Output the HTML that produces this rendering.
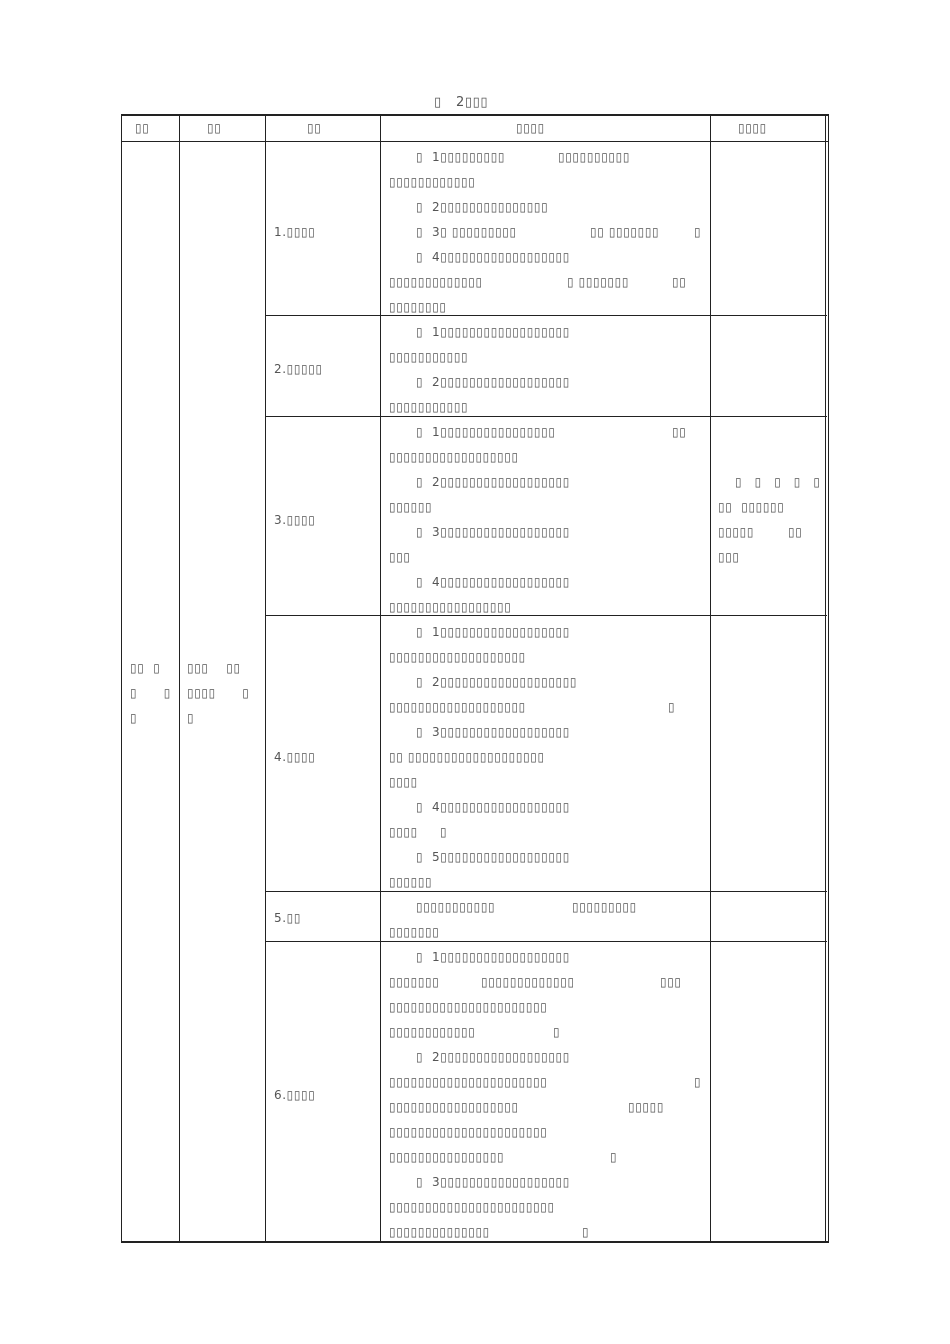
<!DOCTYPE html>
<html><head><meta charset="utf-8"><style>
body{margin:0;background:#fff;width:950px;height:1344px;position:relative;overflow:hidden}
.t{position:absolute;font-family:"DejaVu Sans",sans-serif;font-size:12px;letter-spacing:0.6px;line-height:14px;color:#555;white-space:pre}
.h{position:absolute;background:#222;height:1px}
.v{position:absolute;background:#222;width:1px}
</style></head><body>
<div class="h" style="left:121px;top:114px;width:707px;height:2px"></div>
<div class="h" style="left:121px;top:141px;width:707px"></div>
<div class="h" style="left:121px;top:1241px;width:707px;height:2px"></div>
<div class="h" style="left:265px;top:315px;width:562px"></div>
<div class="h" style="left:265px;top:416px;width:562px"></div>
<div class="h" style="left:265px;top:615px;width:562px"></div>
<div class="h" style="left:265px;top:891px;width:562px"></div>
<div class="h" style="left:265px;top:941px;width:562px"></div>
<div class="v" style="left:121px;top:114px;height:1129px"></div>
<div class="v" style="left:179px;top:114px;height:1129px"></div>
<div class="v" style="left:265px;top:114px;height:1129px"></div>
<div class="v" style="left:380px;top:114px;height:1129px"></div>
<div class="v" style="left:710px;top:114px;height:1129px"></div>
<div class="v" style="left:825px;top:114px;height:1129px"></div>
<div class="v" style="left:828px;top:114px;height:1129px"></div>

<div class="t" style="left:434px;top:96px;font-size:13px">▯   2▯▯▯</div>
<div class="t" style="left:135px;top:121px">▯▯</div>
<div class="t" style="left:207px;top:121px">▯▯</div>
<div class="t" style="left:307px;top:121px">▯▯</div>
<div class="t" style="left:516px;top:121px">▯▯▯▯</div>
<div class="t" style="left:738px;top:121px">▯▯▯▯</div>

<div class="t" style="left:274px;top:225px">1.▯▯▯▯</div>
<div class="t" style="left:416px;top:150px">▯  1▯▯▯▯▯▯▯▯▯</div>
<div class="t" style="left:558px;top:150px">▯▯▯▯▯▯▯▯▯▯</div>
<div class="t" style="left:389px;top:175px">▯▯▯▯▯▯▯▯▯▯▯▯</div>
<div class="t" style="left:416px;top:200px">▯  2▯▯▯▯▯▯▯▯▯▯▯▯▯▯▯</div>
<div class="t" style="left:416px;top:225px">▯  3▯ ▯▯▯▯▯▯▯▯▯</div>
<div class="t" style="left:590px;top:225px">▯▯ ▯▯▯▯▯▯▯</div>
<div class="t" style="left:694px;top:225px">▯</div>
<div class="t" style="left:416px;top:250px">▯  4▯▯▯▯▯▯▯▯▯▯▯▯▯▯▯▯▯▯</div>
<div class="t" style="left:389px;top:275px">▯▯▯▯▯▯▯▯▯▯▯▯▯</div>
<div class="t" style="left:567px;top:275px">▯ ▯▯▯▯▯▯▯</div>
<div class="t" style="left:672px;top:275px">▯▯</div>
<div class="t" style="left:389px;top:300px">▯▯▯▯▯▯▯▯</div>

<div class="t" style="left:274px;top:362px">2.▯▯▯▯▯</div>
<div class="t" style="left:416px;top:325px">▯  1▯▯▯▯▯▯▯▯▯▯▯▯▯▯▯▯▯▯</div>
<div class="t" style="left:389px;top:350px">▯▯▯▯▯▯▯▯▯▯▯</div>
<div class="t" style="left:416px;top:375px">▯  2▯▯▯▯▯▯▯▯▯▯▯▯▯▯▯▯▯▯</div>
<div class="t" style="left:389px;top:400px">▯▯▯▯▯▯▯▯▯▯▯</div>

<div class="t" style="left:274px;top:513px">3.▯▯▯▯</div>
<div class="t" style="left:416px;top:425px">▯  1▯▯▯▯▯▯▯▯▯▯▯▯▯▯▯▯</div>
<div class="t" style="left:672px;top:425px">▯▯</div>
<div class="t" style="left:389px;top:450px">▯▯▯▯▯▯▯▯▯▯▯▯▯▯▯▯▯▯</div>
<div class="t" style="left:416px;top:475px">▯  2▯▯▯▯▯▯▯▯▯▯▯▯▯▯▯▯▯▯</div>
<div class="t" style="left:389px;top:500px">▯▯▯▯▯▯</div>
<div class="t" style="left:416px;top:525px">▯  3▯▯▯▯▯▯▯▯▯▯▯▯▯▯▯▯▯▯</div>
<div class="t" style="left:389px;top:550px">▯▯▯</div>
<div class="t" style="left:416px;top:575px">▯  4▯▯▯▯▯▯▯▯▯▯▯▯▯▯▯▯▯▯</div>
<div class="t" style="left:389px;top:600px">▯▯▯▯▯▯▯▯▯▯▯▯▯▯▯▯▯</div>
<div class="t" style="left:735px;top:475px;letter-spacing:13px">▯▯▯▯▯</div>
<div class="t" style="left:718px;top:500px">▯▯  ▯▯▯▯▯▯</div>
<div class="t" style="left:718px;top:525px">▯▯▯▯▯</div>
<div class="t" style="left:788px;top:525px">▯▯</div>
<div class="t" style="left:718px;top:550px">▯▯▯</div>

<div class="t" style="left:130px;top:661px">▯▯  ▯</div>
<div class="t" style="left:130px;top:686px">▯      ▯</div>
<div class="t" style="left:130px;top:711px">▯</div>
<div class="t" style="left:187px;top:661px">▯▯▯    ▯▯</div>
<div class="t" style="left:187px;top:686px">▯▯▯▯      ▯</div>
<div class="t" style="left:187px;top:711px">▯</div>

<div class="t" style="left:274px;top:750px">4.▯▯▯▯</div>
<div class="t" style="left:416px;top:625px">▯  1▯▯▯▯▯▯▯▯▯▯▯▯▯▯▯▯▯▯</div>
<div class="t" style="left:389px;top:650px">▯▯▯▯▯▯▯▯▯▯▯▯▯▯▯▯▯▯▯</div>
<div class="t" style="left:416px;top:675px">▯  2▯▯▯▯▯▯▯▯▯▯▯▯▯▯▯▯▯▯▯</div>
<div class="t" style="left:389px;top:700px">▯▯▯▯▯▯▯▯▯▯▯▯▯▯▯▯▯▯▯</div>
<div class="t" style="left:668px;top:700px">▯</div>
<div class="t" style="left:416px;top:725px">▯  3▯▯▯▯▯▯▯▯▯▯▯▯▯▯▯▯▯▯</div>
<div class="t" style="left:389px;top:750px">▯▯ ▯▯▯▯▯▯▯▯▯▯▯▯▯▯▯▯▯▯▯</div>
<div class="t" style="left:389px;top:775px">▯▯▯▯</div>
<div class="t" style="left:416px;top:800px">▯  4▯▯▯▯▯▯▯▯▯▯▯▯▯▯▯▯▯▯</div>
<div class="t" style="left:389px;top:825px">▯▯▯▯</div>
<div class="t" style="left:440px;top:825px">▯</div>
<div class="t" style="left:416px;top:850px">▯  5▯▯▯▯▯▯▯▯▯▯▯▯▯▯▯▯▯▯</div>
<div class="t" style="left:389px;top:875px">▯▯▯▯▯▯</div>

<div class="t" style="left:274px;top:911px">5.▯▯</div>
<div class="t" style="left:416px;top:900px">▯▯▯▯▯▯▯▯▯▯▯</div>
<div class="t" style="left:572px;top:900px">▯▯▯▯▯▯▯▯▯</div>
<div class="t" style="left:389px;top:925px">▯▯▯▯▯▯▯</div>

<div class="t" style="left:274px;top:1088px">6.▯▯▯▯</div>
<div class="t" style="left:416px;top:950px">▯  1▯▯▯▯▯▯▯▯▯▯▯▯▯▯▯▯▯▯</div>
<div class="t" style="left:389px;top:975px">▯▯▯▯▯▯▯</div>
<div class="t" style="left:481px;top:975px">▯▯▯▯▯▯▯▯▯▯▯▯▯</div>
<div class="t" style="left:660px;top:975px">▯▯▯</div>
<div class="t" style="left:389px;top:1000px">▯▯▯▯▯▯▯▯▯▯▯▯▯▯▯▯▯▯▯▯▯▯</div>
<div class="t" style="left:389px;top:1025px">▯▯▯▯▯▯▯▯▯▯▯▯</div>
<div class="t" style="left:553px;top:1025px">▯</div>
<div class="t" style="left:416px;top:1050px">▯  2▯▯▯▯▯▯▯▯▯▯▯▯▯▯▯▯▯▯</div>
<div class="t" style="left:389px;top:1075px">▯▯▯▯▯▯▯▯▯▯▯▯▯▯▯▯▯▯▯▯▯▯</div>
<div class="t" style="left:694px;top:1075px">▯</div>
<div class="t" style="left:389px;top:1100px">▯▯▯▯▯▯▯▯▯▯▯▯▯▯▯▯▯▯</div>
<div class="t" style="left:628px;top:1100px">▯▯▯▯▯</div>
<div class="t" style="left:389px;top:1125px">▯▯▯▯▯▯▯▯▯▯▯▯▯▯▯▯▯▯▯▯▯▯</div>
<div class="t" style="left:389px;top:1150px">▯▯▯▯▯▯▯▯▯▯▯▯▯▯▯▯</div>
<div class="t" style="left:610px;top:1150px">▯</div>
<div class="t" style="left:416px;top:1175px">▯  3▯▯▯▯▯▯▯▯▯▯▯▯▯▯▯▯▯▯</div>
<div class="t" style="left:389px;top:1200px">▯▯▯▯▯▯▯▯▯▯▯▯▯▯▯▯▯▯▯▯▯▯▯</div>
<div class="t" style="left:389px;top:1225px">▯▯▯▯▯▯▯▯▯▯▯▯▯▯</div>
<div class="t" style="left:582px;top:1225px">▯</div>
</body></html>
